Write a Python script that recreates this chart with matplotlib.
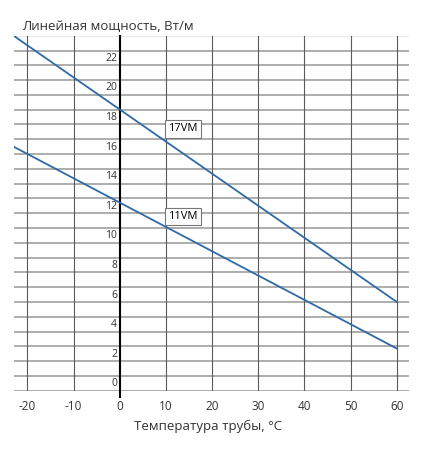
import matplotlib
matplotlib.use('Agg')
import matplotlib.pyplot as plt

# data
temps = [-23, 60]
power_17vm = [24.0, 6.0]
power_11vm = [16.5, 2.85]
x_ticks = [-20, -10, 0, 10, 20, 30, 40, 50, 60]
y_labels = [0, 2, 4, 6, 8, 10, 12, 14, 16, 18, 20, 22]
y_grid = list(range(0, 24))

plt.rcParams['font.family'] = ['Open Sans', 'DejaVu Sans']

fig = plt.figure(figsize=(4.46, 4.62), dpi=100)
ax = fig.add_axes([0.0314, 0.1543, 0.8863, 0.7684])
ax.set_xlim(-22.9, 62.7)
ax.set_ylim(0, 24)
for s in ax.spines.values():
    s.set_visible(False)

# grid
for v in y_grid:
    ax.axhline(v, color='#a0a0a0', lw=1.2, zorder=1)
ax.axhline(24, color='#ebebeb', lw=1.0, zorder=1)
for t in x_ticks:
    if t == 0:
        ax.plot([0, 0], [-0.45, 24], color='black', lw=1.5, zorder=2, clip_on=False)
    else:
        ax.axvline(t, color='#5a5a5a', lw=0.8, zorder=2)

# lines
ax.plot(temps, power_17vm, color='#2f6aa6', lw=1.3, zorder=3)
ax.plot(temps, power_11vm, color='#2f6aa6', lw=1.3, zorder=3)

box = dict(boxstyle='square,pad=0.3', fc='white', ec='#777777', lw=0.8)
ax.text(13.7, 17.7, '17VM', fontsize=8, ha='center', va='center', bbox=box, zorder=4)
ax.text(13.7, 11.77, '11VM', fontsize=8, ha='center', va='center', bbox=box, zorder=4)

# y labels next to the zero line
for v in y_labels:
    ax.annotate(str(v), (0, v), xytext=(-2, 1), textcoords='offset points',
                ha='right', va='bottom', fontsize=7.5, color='#333333')

ax.set_yticks([])
ax.set_xticks(x_ticks)
ax.set_xticklabels([str(t) for t in x_ticks], fontsize=8.5, color='#333333')
ax.tick_params(axis='x', length=0, pad=7)

fig.text(0.049, 0.942, 'Линейная мощность, Вт/м', fontsize=9.5, color='#333333',
         ha='left', va='center')
fig.text(0.467, 0.078, 'Температура трубы, °C', fontsize=9.5, color='#333333',
         ha='center', va='center')

fig.savefig('out.png', dpi=100)
